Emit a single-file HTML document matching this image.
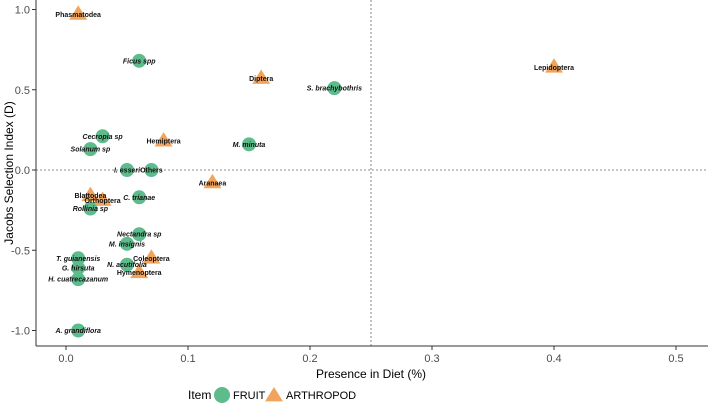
<!DOCTYPE html>
<html><head><meta charset="utf-8"><style>
body{margin:0;background:#fff;}
svg{display:block;font-family:"Liberation Sans",sans-serif;}
</style></head><body>
<svg id="chart" width="708" height="404">
<g id="axes"></g><g id="marks"></g>
</svg>
<script>
const names=["Phasmatodea","Ficus spp","Diptera","S. brachybothris","Lepidoptera","Cecropia sp","Solanum sp","Hemiptera","M. minuta","I. esseri","Others","Aranaea","Blattodea","Orthoptera","C. trianae","Rollinia sp","Nectandra sp","M. insignis","Coleoptera","N. acutifolia","Hymenoptera","T. guianensis","G. hirsuta","H. cuatrecazanum","A. grandiflora"];
const presence=[0.01,0.06,0.16,0.22,0.40,0.03,0.02,0.08,0.15,0.05,0.07,0.12,0.02,0.03,0.06,0.02,0.06,0.05,0.07,0.05,0.06,0.01,0.01,0.01,0.01];
const jacobs=[0.97,0.68,0.57,0.51,0.64,0.21,0.13,0.18,0.16,0,0,-0.08,-0.16,-0.19,-0.17,-0.24,-0.40,-0.46,-0.55,-0.59,-0.64,-0.55,-0.61,-0.68,-1.0];
const itemType=["A","F","A","F","A","F","F","A","F","F","F","A","A","A","F","F","F","F","A","F","A","F","F","F","F"];
const italicName=[false,true,false,true,false,true,true,false,true,true,false,false,false,false,true,true,true,true,false,true,false,true,true,true,true];
const xTicks=[0,0.1,0.2,0.3,0.4,0.5];
const xTickLabels=["0.0","0.1","0.2","0.3","0.4","0.5"];
const yTicks=[-1,-0.5,0,0.5,1];
const yTickLabels=["-1.0","-0.5","0.0","0.5","1.0"];
const NS="http://www.w3.org/2000/svg";
const X=v=>66+v*1220, Y=v=>170-v*160.5;
const GREEN="#5dbb8c",ORANGE="#f2a45c";
function mk(tag,at,parent){const e=document.createElementNS(NS,tag);for(const k in at)e.setAttribute(k,at[k]);parent.appendChild(e);return e;}
const ax=document.getElementById('axes'),mg=document.getElementById('marks');
let e;
e=mk('line',{x1:36,y1:Y(0),x2:708,y2:Y(0),stroke:'#666','stroke-dasharray':'2,2','stroke-width':0.8},ax);

e=mk('line',{x1:X(0.25),y1:0,x2:X(0.25),y2:346,stroke:'#666','stroke-dasharray':'2,2','stroke-width':0.8},ax);

e=mk('line',{x1:36,y1:0,x2:36,y2:346,stroke:'#333','stroke-width':1},ax);

e=mk('line',{x1:36,y1:346,x2:708,y2:346,stroke:'#333','stroke-width':1},ax);

xTicks.forEach((t,i)=>{mk('line',{x1:X(t),y1:346,x2:X(t),y2:350,stroke:'#333'},ax);
 const tx=mk('text',{x:X(t),y:362,'text-anchor':'middle','font-size':11,fill:'#4d4d4d'},ax);tx.textContent=xTickLabels[i];
 });
yTicks.forEach((t,i)=>{mk('line',{x1:32,y1:Y(t),x2:36,y2:Y(t),stroke:'#333'},ax);
 const tx=mk('text',{x:30,y:Y(t)+4,'text-anchor':'end','font-size':11,fill:'#4d4d4d'},ax);tx.textContent=yTickLabels[i];
 });
e=mk('text',{x:371,y:378,'text-anchor':'middle','font-size':12,fill:'#000'},ax);e.textContent="Presence in Diet (%)";

e=mk('text',{x:13,y:173,'text-anchor':'middle','font-size':12,fill:'#000',transform:'rotate(-90 13 173)'},ax);e.textContent="Jacobs Selection Index (D)";

function tri(cx,cy,p){const s=9;return mk('polygon',{points:`${cx},${cy-s} ${cx-s},${cy+s*0.6} ${cx+s},${cy+s*0.6}`,fill:ORANGE},p);}
names.forEach((n,i)=>{const cx=X(presence[i]),cy=Y(jacobs[i]);let m;
 if(itemType[i]==="F")m=mk('circle',{cx:cx,cy:cy,r:7,fill:GREEN},mg);else m=tri(cx,cy,mg);
 
 });
names.forEach((n,i)=>{const t=mk('text',{x:X(presence[i]),y:Y(jacobs[i])+2.5,'text-anchor':'middle','font-size':7,'font-weight':'bold','font-style':italicName[i]?'italic':'normal',fill:'#111'},mg);
 t.textContent=n;
 
 });
const lg=mk('g',{},ax);
e=mk('text',{x:188,y:399,'font-size':12,fill:'#000'},lg);e.textContent="Item";
e=mk('circle',{cx:222,cy:395,r:8,fill:GREEN},lg);
e=mk('text',{x:233,y:399,'font-size':11,fill:'#000'},lg);e.textContent="FRUIT";
e=tri(274,396,lg);
e=mk('text',{x:286,y:399,'font-size':11,fill:'#000'},lg);e.textContent="ARTHROPOD";
</script>
</body></html>
